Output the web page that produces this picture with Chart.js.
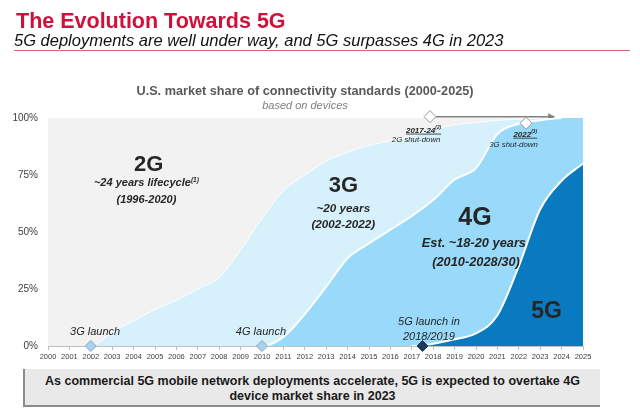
<!DOCTYPE html>
<html>
<head>
<meta charset="utf-8">
<script src="https://cdn.jsdelivr.net/npm/chart.js@4.4.1/dist/chart.umd.min.js"></script>
<style>
  body { margin: 0; width: 640px; height: 413px; background: #fff; overflow: hidden; position: relative;
         font-family: "Liberation Sans", Arial, sans-serif; }
  #chart { position: absolute; left: 0; top: 0; }
  .title { position: absolute; left: 16px; top: 11px; font-size: 21.5px; line-height: 21.5px; font-weight: bold;
           color: #D0103A; white-space: nowrap; }
  .subtitle { position: absolute; left: 14px; top: 32px; font-size: 16.5px; line-height: 16.5px; font-style: italic;
              color: #111; white-space: nowrap; }
  .rule { position: absolute; left: 14px; top: 50px; width: 616px; height: 1px; background: #E06078; }
  .ctitle { position: absolute; left: 0; width: 610px; top: 85px; text-align: center; font-size: 12.7px; line-height: 12.7px;
            font-weight: bold; color: #595959; white-space: nowrap; }
  .csub { position: absolute; left: 0; width: 610px; top: 99.5px; text-align: center; font-size: 11px; line-height: 11px;
          font-style: italic; color: #7F7F7F; white-space: nowrap; }
  .banner { position: absolute; left: 23px; top: 369px; width: 577px; height: 38px; background: #E9E9E9;
            border-left: 2px solid #8C8C8C; border-bottom: 2px solid #8C8C8C; box-sizing: border-box;
            padding-top: 4.5px; text-align: center; font-size: 12.5px; line-height: 15px; font-weight: bold; color: #1a1a1a; }
</style>
</head>
<body>
<canvas id="chart" width="640" height="413"></canvas>
<div class="title">The Evolution Towards 5G</div>
<div class="subtitle">5G deployments are well under way, and 5G surpasses 4G in 2023</div>
<div class="rule"></div>
<div class="ctitle">U.S. market share of connectivity standards (2000-2025)</div>
<div class="csub">based on devices</div>
<div class="banner">As commercial 5G mobile network deployments accelerate, 5G is expected to overtake 4G<br>device market share in 2023</div>
<script>
// market share by year, % of devices
const years = [2000, 2001, 2002, 2003, 2004, 2005, 2006, 2007, 2008, 2009, 2010, 2011, 2012,
               2013, 2014, 2015, 2016, 2017, 2018, 2019, 2020, 2021, 2022, 2023, 2024, 2025];
const share5G = [0, 0, 0, 0, 0, 0, 0, 0, 0, 0, 0, 0, 0, 0, 0, 0, 0, 0, 1, 3, 5.5, 13.5, 35, 60, 72.5, 80];
const share4G = [0, 0, 0, 0, 0, 0, 0, 0, 0, 0, 0, 4, 14, 26, 38.5, 45, 51, 57, 63, 70, 72.5, 79.5, 62.5, 39, 27.5, 20];
const share3G = [0, 0, 0, 6, 11, 16, 20, 25, 30, 42, 56, 64, 61, 55, 46.5, 43, 39, 35, 31, 24, 20, 6, 2, 1, 0, 0];
const share2G = [100, 100, 100, 94, 89, 84, 80, 75, 70, 58, 44, 32, 25, 19, 15, 12, 10, 8, 5, 3, 2, 1, 0.5, 0, 0, 0];

// milestone diamonds
const launchYears = [2002, 2010, 2017.5];
const launchLevels = [0, 0, 0];
const shutdownYears = [2017.85, 2022.34];
const shutdownLevels = [100.6, 97.7];
const arrowEndYear = 2023.7;

const yTicks = [0, 25, 50, 75, 100];

// text placed in the plot (year / % of the baseline)
const F = '"Liberation Sans", Arial';
const notes = [
  { text: '2G', year: 2004.7, pct: 76.9, font: 'bold 22px ' + F },
  { text: '~24 years lifecycle', sup: '(1)', year: 2004.6, pct: 70.2, font: 'bold italic 11px ' + F },
  { text: '(1996-2020)', year: 2004.6, pct: 62.7, font: 'bold italic 11px ' + F },
  { text: '3G', year: 2013.8, pct: 67.5, font: 'bold 22px ' + F },
  { text: '~20 years', year: 2013.8, pct: 58.9, font: 'bold italic 11.7px ' + F },
  { text: '(2002-2022)', year: 2013.8, pct: 51.6, font: 'bold italic 11.7px ' + F },
  { text: '4G', year: 2019.95, pct: 53.1, font: 'bold 25px ' + F },
  { text: 'Est. ~18-20 years', year: 2019.9, pct: 43.5, font: 'bold italic 12.8px ' + F },
  { text: '(2010-2028/30)', year: 2020.0, pct: 35.1, font: 'bold italic 12.8px ' + F },
  { text: '5G', year: 2023.3, pct: 12.1, font: 'bold 23px ' + F },
  { text: '5G launch in', year: 2017.8, pct: 9.2, font: 'italic 11px ' + F },
  { text: '2018/2019', year: 2017.8, pct: 2.6, font: 'italic 11px ' + F },
  { text: '3G launch', year: 2002.2, pct: 4.8, font: 'italic 11px ' + F },
  { text: '4G launch', year: 2009.95, pct: 4.8, font: 'italic 11px ' + F },
  { text: '2017-24', sup: '(2)', year: 2017.55, pct: 93.6, font: 'bold italic 8px ' + F, underline: true },
  { text: '2G shut-down', year: 2017.2, pct: 89.3, font: 'italic 7.8px ' + F },
  { text: '2022', sup: '(3)', year: 2022.3, pct: 91.8, font: 'bold italic 8px ' + F, underline: true },
  { text: '3G shut-down', year: 2021.75, pct: 87.4, font: 'italic 7.8px ' + F }
];

const pts = arr => years.map((yr, i) => ({ x: yr, y: arr[i] }));
const cum = (...arrs) => years.map((yr, i) => ({ x: yr, y: arrs.reduce((s, a) => s + a[i], 0) }));

// boundary lines, hidden where they run flat along the bottom or the top of the plot
const edgeHidden = color => ({
  borderColor: c => {
    const a = c.chart.chartArea;
    const y0 = c.p0.y, y1 = c.p1.y;
    if ((y0 >= a.bottom - 0.5 && y1 >= a.bottom - 0.5) || (y0 <= a.top + 0.5 && y1 <= a.top + 0.5)) return 'rgba(0,0,0,0)';
    return color;
  }
});
const edge = (data, color, width, key) => ({
  data, stack: key, fill: false, order: -1, borderColor: color, borderWidth: width,
  segment: edgeHidden(color), pointRadius: 0, cubicInterpolationMode: 'monotone'
});
const area = (label, data, fill, color) => ({
  label, data, stack: 'share', fill, backgroundColor: color, borderWidth: 0,
  pointRadius: 0, cubicInterpolationMode: 'monotone'
});

const notePlugin = {
  id: 'notes',
  afterDatasetsDraw(chart) {
    const { ctx, scales: { x, y } } = chart;
    ctx.save();
    ctx.textBaseline = 'alphabetic';
    ctx.textAlign = 'left';
    ctx.fillStyle = '#262626';
    notes.forEach(n => {
      const px = x.getPixelForValue(n.year);
      const py = y.getPixelForValue(n.pct);
      ctx.font = n.font;
      const w = ctx.measureText(n.text).width;
      const size = parseFloat(n.font.match(/([\d.]+)px/)[1]);
      const supFont = n.font.replace(/[\d.]+px/, (size * 0.6).toFixed(1) + 'px');
      let sw = 0;
      if (n.sup) { ctx.font = supFont; sw = ctx.measureText(n.sup).width; }
      const left = px - (w + sw) / 2;
      ctx.font = n.font;
      ctx.fillText(n.text, left, py);
      if (n.sup) { ctx.font = supFont; ctx.fillText(n.sup, left + w, py - size * 0.4); }
      if (n.underline) {
        ctx.strokeStyle = '#262626';
        ctx.lineWidth = 0.8;
        ctx.beginPath();
        ctx.moveTo(left, py + 1.5);
        ctx.lineTo(left + w + sw, py + 1.5);
        ctx.stroke();
      }
    });
    ctx.restore();
  },
  beforeDatasetsDraw(chart) {
    // arrow for the 2G shut-down period
    const { ctx, scales: { x, y } } = chart;
    const x0 = x.getPixelForValue(shutdownYears[0]);
    const x1 = x.getPixelForValue(arrowEndYear);
    const yy = y.getPixelForValue(shutdownLevels[0]);
    ctx.save();
    ctx.strokeStyle = '#808080';
    ctx.fillStyle = '#808080';
    ctx.lineWidth = 1.5;
    ctx.beginPath();
    ctx.moveTo(x0, yy);
    ctx.lineTo(x1 - 5, yy);
    ctx.stroke();
    ctx.beginPath();
    ctx.moveTo(x1, yy);
    ctx.lineTo(x1 - 7, yy - 3.5);
    ctx.lineTo(x1 - 7, yy + 3.5);
    ctx.closePath();
    ctx.fill();
    ctx.restore();
  }
};

new Chart(document.getElementById('chart'), {
  type: 'line',
  data: {
    datasets: [
      area('5G', pts(share5G), 'origin', '#0A7AC0'),
      area('4G', pts(share4G), '-1', '#99D9FA'),
      area('3G', pts(share3G), '-1', '#D6F0FC'),
      area('2G', pts(share2G), '-1', '#F2F2F2'),
      edge(cum(share5G), '#fff', 2, 'e5'),
      edge(cum(share5G, share4G), '#fff', 2, 'e4'),
      edge(cum(share5G, share4G, share3G), 'rgba(255,255,255,0.85)', 1, 'e3'),
      { label: 'launch', data: launchYears.map((yr, i) => ({ x: yr, y: launchLevels[i] })), stack: 'launch',
        showLine: false, clip: false, order: -2, pointStyle: 'rectRot', pointRadius: 5.5, pointBorderWidth: 1,
        pointBackgroundColor: ['#A8D3EF', '#A8D3EF', '#1E3A5C'], pointBorderColor: ['#8FA5B8', '#8FA5B8', '#1E3A5C'] },
      { label: 'shutdown', data: shutdownYears.map((yr, i) => ({ x: yr, y: shutdownLevels[i] })), stack: 'shutdown',
        showLine: false, clip: false, order: -2, pointStyle: 'rectRot', pointRadius: 6, pointBorderWidth: 1,
        pointBackgroundColor: '#fff', pointBorderColor: '#9A9A9A' }
    ]
  },
  options: {
    responsive: false,
    animation: false,
    devicePixelRatio: 1,
    layout: { padding: { left: 8, right: 57, top: 118, bottom: 47 } },
    plugins: { legend: { display: false }, tooltip: { enabled: false }, title: { display: false } },
    scales: {
      x: {
        type: 'linear', min: 2000, max: 2025,
        afterFit: s => { s.height = 20; },
        grid: { drawOnChartArea: false, drawTicks: true, tickLength: 4, color: '#BFBFBF' },
        border: { display: true, color: '#BFBFBF' },
        ticks: { stepSize: 1, autoSkip: false, maxRotation: 0, padding: 2, color: '#404040',
                 font: { size: 7.5, family: F }, callback: v => String(v) }
      },
      y: {
        stacked: true, min: 0, max: 100,
        afterFit: s => { s.width = 40; },
        afterBuildTicks: s => { s.ticks = yTicks.map(v => ({ value: v })); },
        grid: { display: false, drawTicks: false },
        border: { display: false },
        ticks: { padding: 10, color: '#404040', font: { size: 10, family: F },
                 callback: v => v + '%' }
      }
    }
  },
  plugins: [notePlugin]
});
</script>
</body>
</html>
